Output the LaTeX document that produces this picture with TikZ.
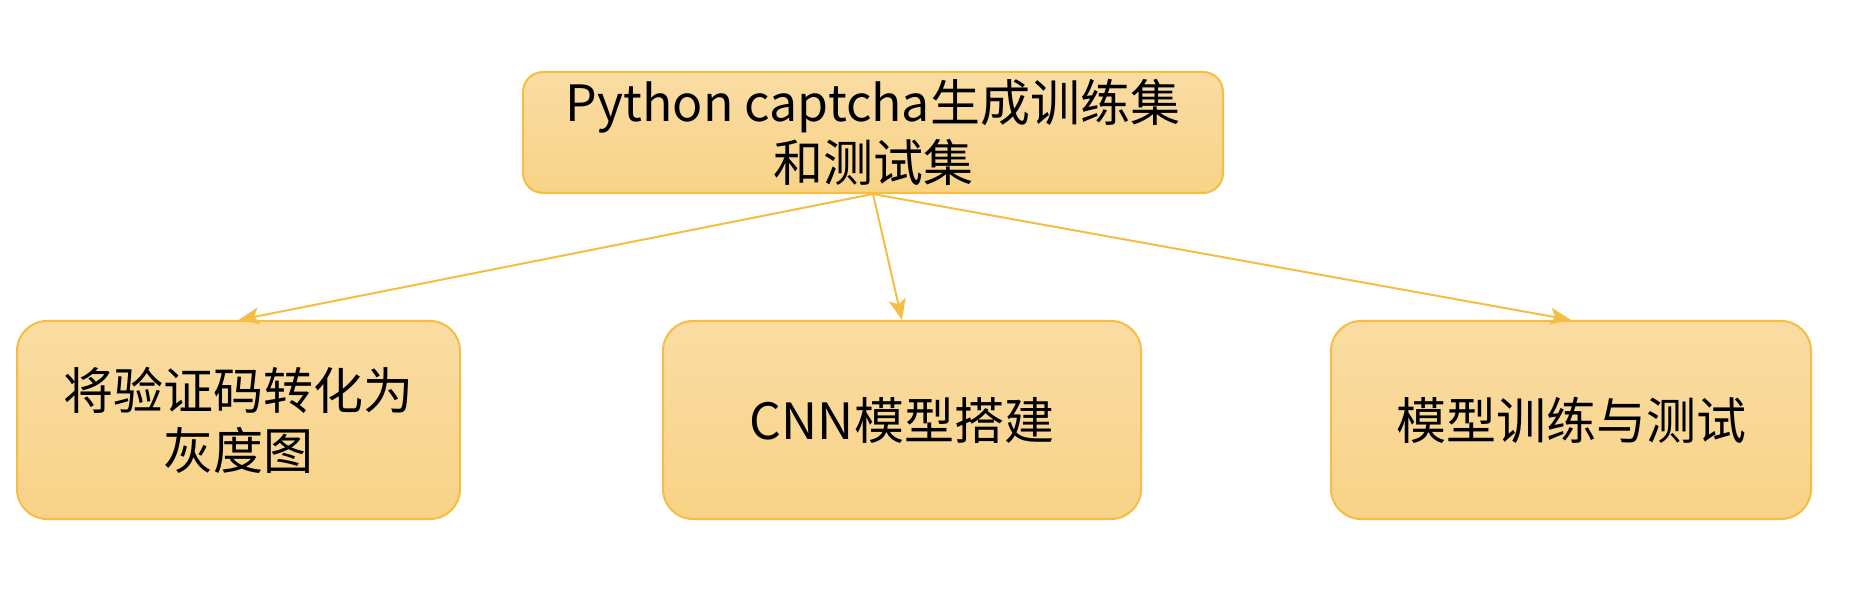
\documentclass[tikz,border=0pt]{standalone}
\usepackage{fontspec}
\setmainfont{Noto Sans CJK SC}
\usetikzlibrary{arrows.meta}

\definecolor{boxline}{HTML}{F5BD43}
\definecolor{boxtop}{HTML}{FADCA3}
\definecolor{boxbottom}{HTML}{F8D387}

\begin{document}
\begin{tikzpicture}
                [
                x=0.5pt,y=-0.5pt,
                step box/.style={draw=boxline,line width=1pt,top color=boxtop,bottom color=boxbottom,
                  align=center,font=\fontsize{25}{30}\selectfont,inner sep=0pt},
                top box/.style={step box,rounded corners=10pt,minimum width=350pt,minimum height=60.5pt},
                low box/.style={step box,rounded corners=15pt,minimum height=99pt},
                edge/.style={-{Stealth[length=10.5pt,width=8.5pt,inset=2.5pt]},draw=boxline,line width=1pt}
                ]
            \useasboundingbox (0,0) rectangle (1856,614);
            \node[top box] (gen) at (873,132.5) {Python captcha生成训练集\\和测试集};
            \node[low box,minimum width=221.5pt] (gray) at (238.5,420) {将验证码转化为\\灰度图};
            \node[low box,minimum width=239pt] (cnn) at (902,420) {CNN模型搭建};
            \node[low box,minimum width=240pt] (train) at (1571,420) {模型训练与测试};
            \draw[edge] (gen.south) -- (gray.north);
            \draw[edge] (gen.south) -- (cnn.north);
            \draw[edge] (gen.south) -- (train.north);
            \end{tikzpicture}
\end{document}
